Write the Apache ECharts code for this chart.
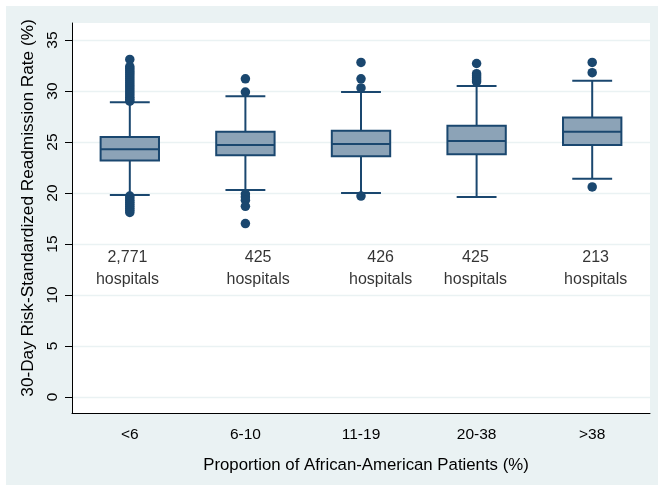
<!DOCTYPE html>
<html>
<head>
<meta charset="utf-8">
<script src="https://cdn.jsdelivr.net/npm/echarts@6/dist/echarts.min.js"></script>
<style>
  html, body { margin: 0; padding: 0; background: #ffffff; }
  #chart { width: 658px; height: 485px; }
</style>
</head>
<body>
<div id="chart"></div>
<script>
// Groups by share of African-American patients
const categories = ['<6', '6-10', '11-19', '20-38', '>38'];

// Box summaries: lower whisker, Q1, median, Q3, upper whisker (%)
const lowerWhisker = [19.8, 20.3, 20.0, 19.6, 21.4];
const quartile1    = [23.2, 23.7, 23.6, 23.8, 24.7];
const medians      = [24.3, 24.7, 24.8, 25.1, 26.0];
const quartile3    = [25.5, 26.0, 26.1, 26.6, 27.4];
const upperWhisker = [28.9, 29.5, 29.9, 30.5, 31.0];

// Outlying hospitals per group (%)
const outliersLt6 = [33.1, 32.4, 32.2, 32.0, 31.8, 31.6, 31.4, 31.2, 31.0, 30.8, 30.6, 30.4,
                     30.2, 30.0, 29.8, 29.6, 29.4, 29.2, 29.0,
                     19.7, 19.5, 19.3, 19.1, 18.9, 18.7, 18.5, 18.3, 18.1];
const outliers6to10 = [31.2, 29.9, 19.9, 19.6, 19.3, 18.7, 17.0];
const outliers11to19 = [32.8, 31.2, 30.3, 19.7];
const outliers20to38 = [32.7, 31.7, 31.5, 31.3, 31.1, 30.9];
const outliersGt38 = [32.8, 31.8, 20.6];
const outlierGroups = [outliersLt6, outliers6to10, outliers11to19, outliers20to38, outliersGt38];

// Number of hospitals in each group
const hospitalCounts = ['2,771', '425', '426', '425', '213'];

// Y axis ticks
const yTicks = [0, 5, 10, 15, 20, 25, 30, 35];

// Horizontal anchor of each count label, in category units (1 = first group)
const countLabelAt = [0.98, 2.11, 3.17, 3.99, 5.03];
const countLabelY = 12.55;

const NAVY = '#1a476f';
const BOX_FILL = '#8ca3b7';
const BG = '#eaf2f3';
const FONT = '"Liberation Sans", Arial, Helvetica, sans-serif';

const boxData = categories.map((c, i) =>
  [i, lowerWhisker[i], quartile1[i], medians[i], quartile3[i], upperWhisker[i]]);

const outlierData = [];
outlierGroups.forEach((vals, i) => vals.forEach(v => outlierData.push([i, v])));

const countData = countLabelAt.map((x, i) => ({ value: [x, countLabelY], text: hospitalCounts[i] }));

const chart = echarts.init(document.getElementById('chart'), null, { renderer: 'canvas' });

chart.setOption({
  animation: false,
  backgroundColor: '#ffffff',
  graphic: [{
    type: 'rect', left: 6, top: 6, z: -10,
    shape: { width: 652, height: 479 },
    style: { fill: BG }
  }],
  grid: {
    left: 72, right: 8, top: 23, bottom: 72,
    show: true, backgroundColor: '#ffffff', borderWidth: 0
  },
  xAxis: [{
    type: 'category',
    data: categories,
    boundaryGap: true,
    axisLine: { show: true, onZero: false, lineStyle: { color: '#000000', width: 1 } },
    axisTick: { show: false },
    axisLabel: { color: '#000000', fontFamily: FONT, fontSize: 15.5, margin: 14 },
    splitLine: { show: false },
    name: 'Proportion of African-American Patients (%)',
    nameLocation: 'middle',
    nameGap: 44,
    nameTextStyle: { color: '#000000', fontFamily: FONT, fontSize: 16.8, padding: [0, 0, 0, 10] }
  }, {
    type: 'value',
    min: 0.5, max: 5.5,
    show: false,
    axisLine: { onZero: false }
  }],
  yAxis: {
    type: 'value',
    min: -1.57, max: 36.67,
    axisLine: { show: true, onZero: false, lineStyle: { color: '#000000', width: 1 } },
    axisTick: { show: true, length: 7, customValues: yTicks, lineStyle: { color: '#000000' } },
    axisLabel: {
      customValues: yTicks, rotate: 90, margin: 11,
      color: '#000000', fontFamily: FONT, fontSize: 15.5
    },
    splitLine: { show: true, lineStyle: { color: BG, width: 1.3 } },
    name: '30-Day Risk-Standardized Readmission Rate (%)',
    nameLocation: 'middle',
    nameGap: 31,
    nameTextStyle: { color: '#000000', fontFamily: FONT, fontSize: 17.2, padding: [0, 0, 0, 20] }
  },
  series: [{
    type: 'custom',
    xAxisIndex: 0,
    data: boxData,
    encode: { x: 0, y: [1, 2, 3, 4, 5] },
    z: 3,
    renderItem: function (params, api) {
      const c = api.value(0);
      const lo = api.coord([c, api.value(1)]);
      const q1 = api.coord([c, api.value(2)]);
      const md = api.coord([c, api.value(3)]);
      const q3 = api.coord([c, api.value(4)]);
      const hi = api.coord([c, api.value(5)]);
      const band = api.size([1, 0])[0];
      const bw = band * 0.505;
      const cw = band * 0.345;
      const x = lo[0];
      const line = { stroke: NAVY, lineWidth: 2, fill: null };
      return {
        type: 'group',
        children: [
          { type: 'line', shape: { x1: x, y1: hi[1], x2: x, y2: q3[1] }, style: line },
          { type: 'line', shape: { x1: x, y1: q1[1], x2: x, y2: lo[1] }, style: line },
          { type: 'line', shape: { x1: x - cw / 2, y1: hi[1], x2: x + cw / 2, y2: hi[1] }, style: line },
          { type: 'line', shape: { x1: x - cw / 2, y1: lo[1], x2: x + cw / 2, y2: lo[1] }, style: line },
          { type: 'rect', shape: { x: x - bw / 2, y: q3[1], width: bw, height: q1[1] - q3[1] },
            style: { fill: BOX_FILL, stroke: NAVY, lineWidth: 2 } },
          { type: 'line', shape: { x1: x - bw / 2, y1: md[1], x2: x + bw / 2, y2: md[1] }, style: line }
        ]
      };
    }
  }, {
    type: 'scatter',
    xAxisIndex: 0,
    data: outlierData,
    symbol: 'circle',
    symbolSize: 9.5,
    itemStyle: { color: NAVY, opacity: 1 },
    z: 4
  }, {
    type: 'scatter',
    xAxisIndex: 1,
    data: countData,
    symbolSize: 0,
    silent: true,
    label: {
      show: true,
      position: 'inside',
      formatter: p => p.data.text + '\nhospitals',
      color: '#000000',
      fontFamily: FONT,
      fontSize: 16,
      lineHeight: 22,
      align: 'center',
      verticalAlign: 'middle'
    },
    z: 5
  }]
});
</script>
</body>
</html>
